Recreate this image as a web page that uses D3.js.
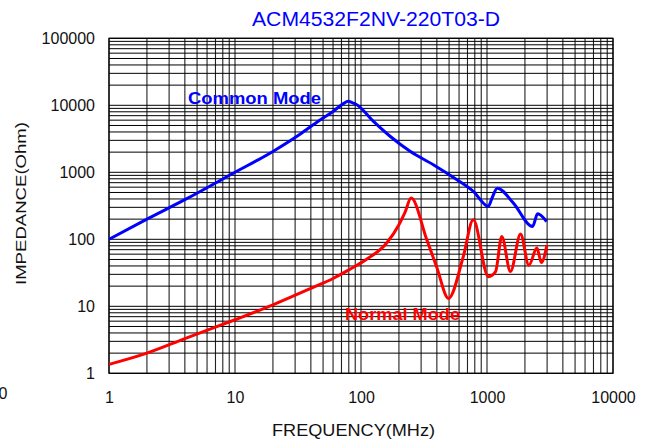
<!DOCTYPE html>
<html>
<head>
<meta charset="utf-8">
<script src="https://cdn.jsdelivr.net/npm/d3@7"></script>
<style>
  body { margin: 0; background: #fff; }
  text { font-family: Arial, "Liberation Sans", sans-serif; }
</style>
</head>
<body>
<svg></svg>
<script>
// x: frequency (MHz), y: impedance (Ohm)

const commonFreq = [1, 2, 4, 10, 20, 32.8, 47, 60, 72, 79, 85, 92, 125, 170, 245, 375, 574, 778, 1024, 1100, 1206, 1614, 2300, 2520, 2637, 2970];
const commonZ    = [100, 200, 390, 1000, 2050, 3700, 6000, 8100, 10500, 11500, 11000, 10300, 5800, 3450, 2060, 1300, 780, 520, 310, 420, 580, 350, 155, 240, 232, 184];

const normalFreq = [1, 2, 4, 10, 20, 40, 60, 80, 110, 160, 200, 223, 250, 333, 398, 495, 648, 778, 1024, 1170, 1310, 1535, 1846, 2150, 2490, 2700, 2990];
const normalZ    = [1.36, 2.0, 3.3, 6.3, 10.5, 18.5, 26, 35, 50, 88, 165, 250, 412, 98, 39, 13.1, 55, 195, 27.7, 33, 110, 33, 120, 41, 74, 45, 82];

const xTicks = [1, 10, 100, 1000, 10000];
const yTicks = [1, 10, 100, 1000, 10000, 100000];

const width = 650;
const height = 443;
const plotLeft = 109, plotRight = 613, plotTop = 38.3, plotBottom = 373.3;

// Scales
const xScale = d3.scaleLog()
    .domain([1, 10000])
    .range([plotLeft, plotRight]);

const yScale = d3.scaleLog()
    .domain([1, 100000])
    .range([plotBottom, plotTop]);

// Setup
const svg = d3.select("svg")
    .attr("width", width)
    .attr("height", height);

// minor + major grid, values 1..9 of each decade
const xGrid = [];
for (let d = 1; d < 10000; d *= 10)
  for (let k = 1; k < 10; k++) xGrid.push(d * k);
xGrid.push(10000);

const yGrid = [];
for (let d = 1; d < 100000; d *= 10)
  for (let k = 1; k < 10; k++) yGrid.push(d * k);
yGrid.push(100000);

const grid = svg.append("g");

grid.selectAll("line.v")
  .data(xGrid)
  .enter()
  .append("line")
    .attr("x1", d => xScale(d))
    .attr("x2", d => xScale(d))
    .attr("y1", plotTop)
    .attr("y2", plotBottom)
    .attr("stroke", "#222")
    .attr("stroke-width", 1.1);

grid.selectAll("line.h")
  .data(yGrid)
  .enter()
  .append("line")
    .attr("x1", plotLeft)
    .attr("x2", plotRight)
    .attr("y1", d => yScale(d))
    .attr("y2", d => yScale(d))
    .attr("stroke", "#000")
    .attr("stroke-width", 1);

grid.append("rect")
    .attr("x", plotLeft)
    .attr("y", plotTop)
    .attr("width", plotRight - plotLeft)
    .attr("height", plotBottom - plotTop)
    .attr("fill", "none")
    .attr("stroke", "#000")
    .attr("stroke-width", 1.2);

// Axes (labels only)
const xAxis = d3.axisBottom(xScale)
    .tickValues(xTicks)
    .tickFormat(d3.format("d"))
    .tickSize(0)
    .tickPadding(18);

const yAxis = d3.axisLeft(yScale)
    .tickValues(yTicks)
    .tickFormat(d3.format("d"))
    .tickSize(0)
    .tickPadding(14);

svg.append("g")
    .attr("transform", `translate(0, ${plotBottom})`)
    .call(xAxis)
    .call(g => g.select(".domain").remove())
    .selectAll("text")
    .attr("font-size", 16)
    .attr("fill", "#111")
    .attr("font-family", "Arial, 'Liberation Sans', sans-serif");

svg.append("g")
    .attr("transform", `translate(${plotLeft}, 0)`)
    .call(yAxis)
    .call(g => g.select(".domain").remove())
    .selectAll("text")
    .attr("font-size", 16)
    .attr("fill", "#111")
    .attr("font-family", "Arial, 'Liberation Sans', sans-serif");

// stray cut-off label at the far left
svg.append("text")
    .text("0")
    .attr("x", 3)
    .attr("y", 399)
    .attr("text-anchor", "middle")
    .attr("font-size", 16)
    .attr("fill", "#111");

// Curves
const line = d3.line()
    .x(d => xScale(d[0]))
    .y(d => yScale(d[1]))
    .curve(d3.curveMonotoneX);

svg.append("path")
    .attr("d", line(d3.zip(normalFreq, normalZ)))
    .attr("fill", "none")
    .attr("stroke", "#ff0000")
    .attr("stroke-width", 3)
    .attr("stroke-linejoin", "round");

svg.append("path")
    .attr("d", line(d3.zip(commonFreq, commonZ)))
    .attr("fill", "none")
    .attr("stroke", "#0000ff")
    .attr("stroke-width", 3)
    .attr("stroke-linejoin", "round");

// Texts
svg.append("text")
    .text("ACM4532F2NV-220T03-D")
    .attr("x", 252)
    .attr("y", 26)
    .attr("font-size", 20.5)
    .attr("textLength", 248)
    .attr("lengthAdjust", "spacingAndGlyphs")
    .attr("fill", "#0000ff");

svg.append("text")
    .text("Common Mode")
    .attr("x", 188)
    .attr("y", 103.5)
    .attr("font-size", 16)
    .attr("font-weight", "bold")
    .attr("textLength", 133)
    .attr("lengthAdjust", "spacingAndGlyphs")
    .attr("fill", "#0000ff");

svg.append("text")
    .text("Normal Mode")
    .attr("x", 345)
    .attr("y", 320)
    .attr("font-size", 16.5)
    .attr("font-weight", "bold")
    .attr("textLength", 115)
    .attr("lengthAdjust", "spacingAndGlyphs")
    .attr("fill", "#ff0000");

svg.append("text")
    .text("FREQUENCY(MHz)")
    .attr("x", 272)
    .attr("y", 436)
    .attr("font-size", 16)
    .attr("textLength", 163)
    .attr("lengthAdjust", "spacingAndGlyphs")
    .attr("fill", "#111");

svg.append("text")
    .text("IMPEDANCE(Ohm)")
    .attr("transform", "translate(26, 285) rotate(-90)")
    .attr("font-size", 15)
    .attr("textLength", 163)
    .attr("lengthAdjust", "spacingAndGlyphs")
    .attr("fill", "#111");
</script>
</body>
</html>
